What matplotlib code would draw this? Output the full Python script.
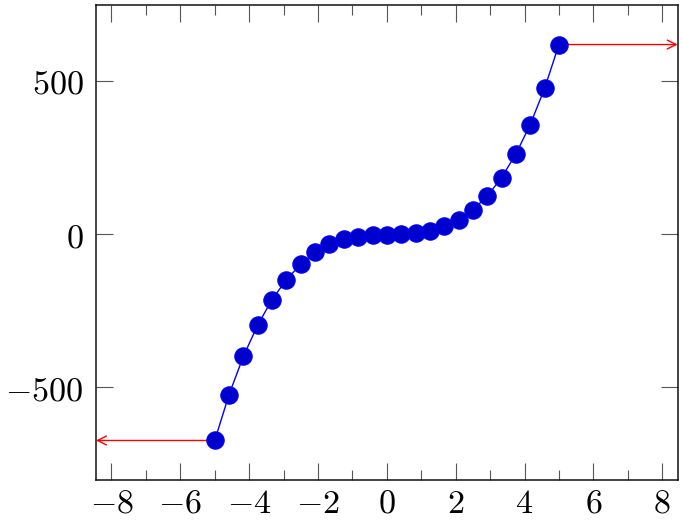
import numpy as np
import matplotlib
matplotlib.use("Agg")
import matplotlib.pyplot as plt
from matplotlib.ticker import FixedLocator, FuncFormatter
import matplotlib.transforms as mtransforms

plt.rcParams['mathtext.fontset'] = 'cm'

x_vals = np.linspace(-5, 5, 25)
y_vals = [-673, -523, -398, -296, -213, -148, -98, -59, -33, -17, -8.6, -3,
          -1, 2, 4.3, 12, 26, 48, 80, 124, 185, 262, 358, 476, 619]
x_ticks = [-8, -6, -4, -2, 0, 2, 4, 6, 8]
x_minor = [-7, -5, -3, -1, 1, 3, 5, 7]
y_ticks = [-500, 0, 500]

fig = plt.figure(figsize=(6.83, 5.22), dpi=100)
ax = fig.add_axes([96/683, 42/522, (677.7-96)/683, (480-5)/522])

ax.plot(x_vals, y_vals, color='#0000ff', lw=1.0, marker='o', ms=12.5,
        mfc='#0000cc', mec='#0000ff', mew=0.8, zorder=3)

trans = mtransforms.blended_transform_factory(ax.transAxes, ax.transData)
arrow = dict(arrowstyle='->', color='#ff0000', lw=1.0, mutation_scale=16,
             shrinkA=0, shrinkB=0)
ax.annotate('', xy=(0, y_vals[0]), xycoords=trans,
            xytext=(x_vals[0], y_vals[0]), textcoords='data', arrowprops=arrow, zorder=2)
ax.annotate('', xy=(1, y_vals[-1]), xycoords=trans,
            xytext=(x_vals[-1], y_vals[-1]), textcoords='data', arrowprops=arrow, zorder=2)

ax.set_xlim(-8.45, 8.45)
ax.set_ylim(-802, 748)

ax.xaxis.set_major_locator(FixedLocator(x_ticks))
ax.xaxis.set_minor_locator(FixedLocator(x_minor))
ax.yaxis.set_major_locator(FixedLocator(y_ticks))
fmt = FuncFormatter(lambda v, p: r'$%d$' % v)
ax.xaxis.set_major_formatter(fmt)
ax.yaxis.set_major_formatter(fmt)

ax.tick_params(which='both', direction='in', top=True, right=True,
               color='#555555', width=0.8, labelsize=24.5)
ax.tick_params(which='major', length=12.5)
ax.tick_params(axis='x', which='major', pad=5)
ax.tick_params(axis='y', which='major', pad=9)
ax.tick_params(which='minor', length=7.5)
for s in ax.spines.values():
    s.set_linewidth(1.1)
    s.set_color('#111111')

fig.savefig('out.png', dpi=100)
